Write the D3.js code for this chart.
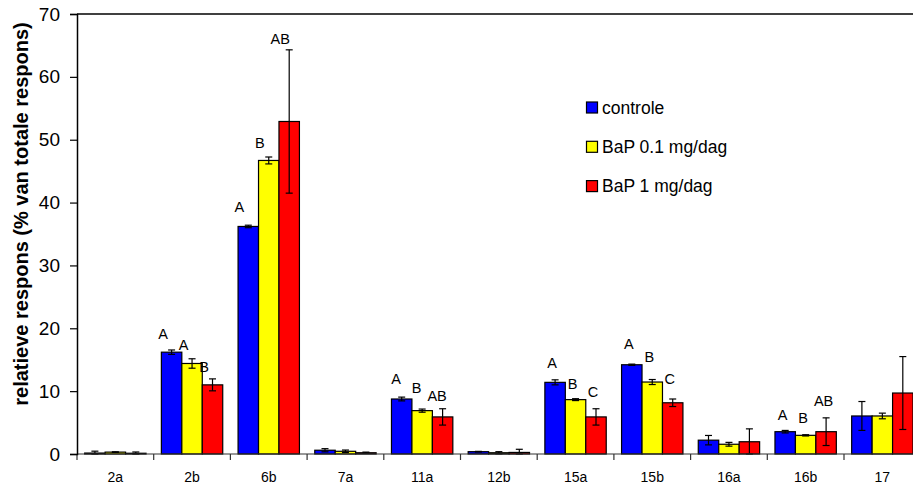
<!DOCTYPE html>
<html>
<head>
<meta charset="utf-8">
<script src="https://cdn.jsdelivr.net/npm/d3@7/dist/d3.min.js"></script>
<style>
  html, body { margin: 0; padding: 0; background: #fff; }
  svg { display: block; font-family: "Liberation Sans", Arial, sans-serif; }
</style>
</head>
<body>
<svg id="chart" width="913" height="485"></svg>
<script>
// ---- data ----
const categories = ["2a", "2b", "6b", "7a", "11a", "12b", "15a", "15b", "16a", "16b", "17"];
const seriesNames = ["controle", "BaP 0.1 mg/dag", "BaP 1 mg/dag"];

const controle    = [0.15, 16.2, 36.2, 0.6, 8.75, 0.37, 11.4, 14.2, 2.2, 3.55, 6.05];
const controleErr = [0.3, 0.35, 0.2, 0.25, 0.3, 0.05, 0.4, 0.1, 0.75, 0.2, 2.3];
const bap01       = [0.3, 14.4, 46.7, 0.43, 6.9, 0.2, 8.65, 11.45, 1.55, 2.97, 6.05];
const bap01Err    = [0.05, 0.75, 0.55, 0.2, 0.25, 0.17, 0.15, 0.4, 0.3, 0.1, 0.45];
const bap1        = [0.12, 11.0, 52.9, 0.2, 5.9, 0.25, 5.9, 8.15, 1.95, 3.55, 9.7];
const bap1Err     = [0.2, 0.95, 11.4, 0.1, 1.3, 0.5, 1.3, 0.6, 2.05, 2.2, 5.8];

// significance letters and the value at which each letter sits
const controleLetters = ["", "A", "A", "", "A", "", "A", "A", "", "A", ""];
const controleLetterY = [0, 19.1, 39.3, 0, 11.9, 0, 14.5, 17.5, 0, 6.2, 0];
const bap01Letters    = ["", "A", "B", "", "B", "", "B", "B", "", "B", ""];
const bap01LetterY    = [0, 17.3, 49.5, 0, 10.5, 0, 11.1, 15.4, 0, 5.7, 0];
const bap1Letters     = ["", "B", "AB", "", "AB", "", "C", "C", "", "AB", ""];
const bap1LetterY     = [0, 13.9, 66.1, 0, 9.3, 0, 9.9, 11.9, 0, 8.4, 0];

const yTicks = [0, 10, 20, 30, 40, 50, 60, 70];

// ---- layout / style ----
const colors = ["#0000FF", "#FFFF00", "#FF0000"];
const plot = { left: 77, right: 920.7, top: 14, bottom: 454 };
const letterNudge = [0, -8.5, -9, 0, -5.5, 0, -3, -3, 0, -2.5, 0]; // px

const series = [
  { name: seriesNames[0], values: controle, err: controleErr, letters: controleLetters, letterY: controleLetterY },
  { name: seriesNames[1], values: bap01, err: bap01Err, letters: bap01Letters, letterY: bap01LetterY },
  { name: seriesNames[2], values: bap1, err: bap1Err, letters: bap1Letters, letterY: bap1LetterY }
];

const svg = d3.select("#chart");

const x0 = d3.scaleBand().domain(categories).range([plot.left, plot.right]).paddingInner(0).paddingOuter(0);
const bw = x0.bandwidth();
const x1 = d3.scaleBand().domain(seriesNames).range([bw * 0.1, bw * 0.9]).padding(0);
const y = d3.scaleLinear().domain([0, 70]).range([plot.bottom, plot.top]);

// top frame
svg.append("line")
  .attr("x1", plot.left).attr("x2", plot.right)
  .attr("y1", y(70)).attr("y2", y(70))
  .attr("stroke", "#000").attr("stroke-width", 1.5);

// bars
const groups = svg.append("g").selectAll("g")
  .data(categories)
  .join("g")
  .attr("transform", d => `translate(${x0(d)},0)`);

series.forEach((s, si) => {
  groups.append("rect")
    .attr("x", (d, i) => x1(s.name))
    .attr("y", (d, i) => y(s.values[i]))
    .attr("width", x1.bandwidth())
    .attr("height", (d, i) => y(0) - y(s.values[i]))
    .attr("fill", colors[si])
    .attr("stroke", "#000")
    .attr("stroke-width", 1.2);
});

// error bars
const capW = 7;
series.forEach((s, si) => {
  const cx = x1(s.name) + x1.bandwidth() / 2;
  groups.append("line")
    .attr("x1", cx).attr("x2", cx)
    .attr("y1", (d, i) => y(s.values[i] + s.err[i]))
    .attr("y2", (d, i) => y(Math.max(0, s.values[i] - s.err[i])))
    .attr("stroke", "#000").attr("stroke-width", 1.2);
  groups.append("line")
    .attr("x1", cx - capW / 2).attr("x2", cx + capW / 2)
    .attr("y1", (d, i) => y(s.values[i] + s.err[i]))
    .attr("y2", (d, i) => y(s.values[i] + s.err[i]))
    .attr("stroke", "#000").attr("stroke-width", 1.2);
  groups.append("line")
    .attr("x1", cx - capW / 2).attr("x2", cx + capW / 2)
    .attr("y1", (d, i) => y(Math.max(0, s.values[i] - s.err[i])))
    .attr("y2", (d, i) => y(Math.max(0, s.values[i] - s.err[i])))
    .attr("stroke", "#000").attr("stroke-width", 1.2);
});

// letters
series.forEach((s, si) => {
  const cx = x1(s.name) + x1.bandwidth() / 2;
  groups.filter((d, i) => s.letters[i] !== "")
    .append("text")
    .attr("x", d => cx + letterNudge[categories.indexOf(d)])
    .attr("y", d => y(s.letterY[categories.indexOf(d)]))
    .attr("dy", "0.36em")
    .attr("text-anchor", "middle")
    .attr("font-size", 14.5)
    .attr("fill", "#000")
    .text(d => s.letters[categories.indexOf(d)]);
});

// x axis
const xAxisG = svg.append("g").attr("transform", `translate(0,${y(0)})`);
xAxisG.call(d3.axisBottom(x0).tickSize(0).tickPadding(18))
  .call(g => g.select(".domain").remove())
  .call(g => g.selectAll("text").attr("font-size", 14).attr("fill", "#000").attr("font-family", null));
xAxisG.append("line")
  .attr("x1", plot.left).attr("x2", plot.right)
  .attr("y1", 0).attr("y2", 0)
  .attr("stroke", "#333").attr("stroke-width", 1.2);
xAxisG.selectAll(".bnd")
  .data(categories.concat(["__end"]))
  .join("line")
  .attr("class", "bnd")
  .attr("x1", (d, i) => i < categories.length ? x0(d) : plot.right)
  .attr("x2", (d, i) => i < categories.length ? x0(d) : plot.right)
  .attr("y1", 0).attr("y2", 6)
  .attr("stroke", "#333").attr("stroke-width", 1.2);

// y axis
const yAxisG = svg.append("g").attr("transform", `translate(${plot.left},0)`);
yAxisG.call(d3.axisLeft(y).tickValues(yTicks).tickSize(7).tickPadding(10))
  .call(g => g.select(".domain").attr("stroke", "#000").attr("stroke-width", 1.5))
  .call(g => g.selectAll(".tick line").attr("stroke", "#000").attr("stroke-width", 1.2))
  .call(g => g.selectAll("text").attr("font-size", 19).attr("fill", "#000").attr("font-family", null));

// y title
svg.append("text")
  .attr("transform", `translate(28,${(20 + 408) / 2}) rotate(-90)`)
  .attr("text-anchor", "middle")
  .attr("font-size", 20)
  .attr("font-weight", "bold")
  .attr("fill", "#000")
  .text("relatieve respons (% van totale respons)");

// legend
const legend = svg.append("g").attr("transform", "translate(586.5,107.5)");
seriesNames.forEach((n, i) => {
  const g = legend.append("g").attr("transform", `translate(0,${i * 39.3})`);
  g.append("rect").attr("x", 0).attr("y", -5.5).attr("width", 11).attr("height", 11)
    .attr("fill", colors[i]).attr("stroke", "#000").attr("stroke-width", 1.2);
  g.append("text").attr("x", 15.5).attr("y", 0).attr("dy", "0.36em")
    .attr("font-size", 17.5).attr("fill", "#000").text(n);
});
</script>
</body>
</html>
